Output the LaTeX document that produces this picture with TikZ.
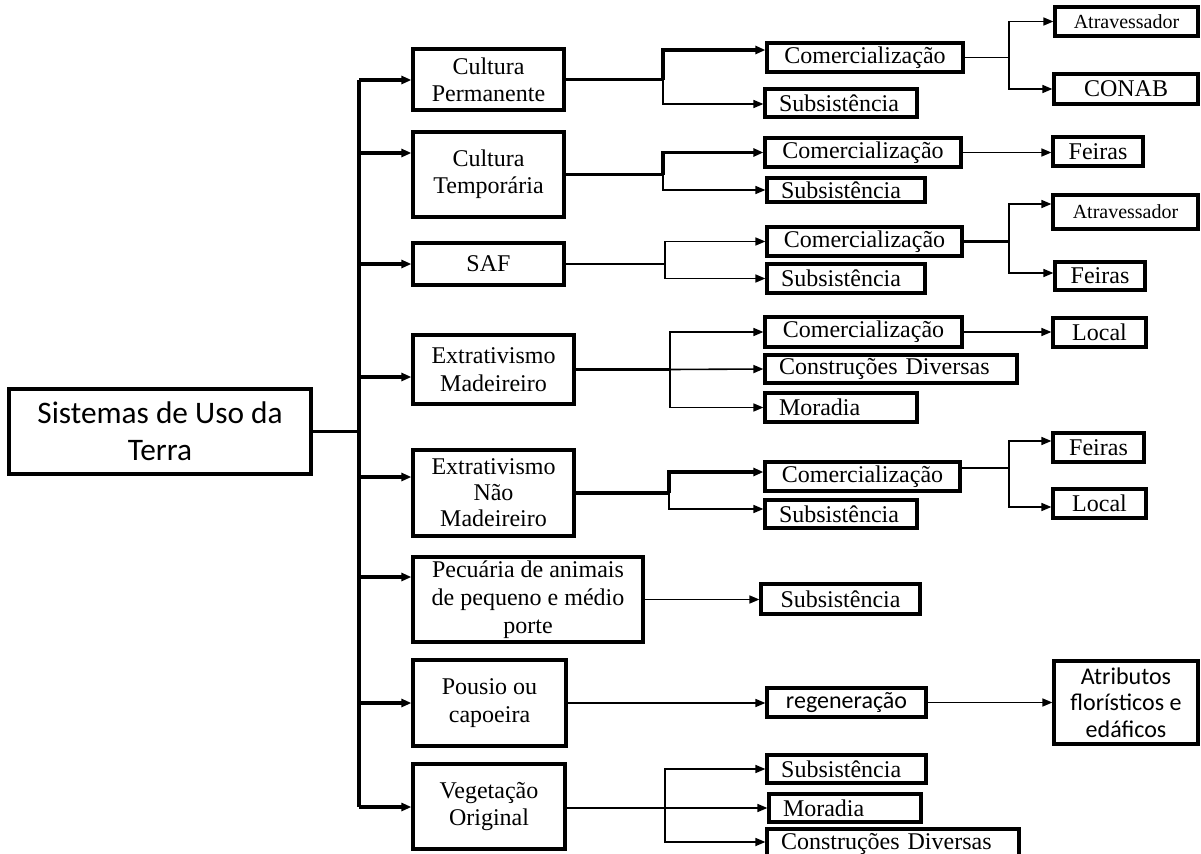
\documentclass[tikz,border=0pt]{standalone}
\usepackage{fontspec}
\setmainfont{Liberation Serif}
\newfontfamily\calibri{Carlito}
\usetikzlibrary{arrows.meta}
\begin{document}
\begin{tikzpicture}[x=0.75pt,y=-0.75pt,
  box/.style={draw, line width=2.4pt, inner sep=0pt, font=\fontsize{18}{20.5}\selectfont, align=center},
  bb/.style args={#1/#2/#3/#4}{at={({(#1+#3)/2},{(#2+#4)/2})}, minimum width={(#3-#1)*0.75pt}, minimum height={(#4-#2)*0.75pt}},
  lbox/.style={box, align=left, text width=#1},
  smallbox/.style={box, font=\fontsize{15}{17}\selectfont},
  calbox/.style={box, font=\calibri\fontsize{18}{20}\selectfont},
  tk/.style={line width=2.6pt},
  md/.style={line width=1.9pt},
  tn/.style={line width=1.2pt},
  arr/.style={-{Triangle[length=7.5pt,width=6pt]}}]
\useasboundingbox (0,0) rectangle (1201,853);

% root
\node[box, bb=9/389/311/474, font=\calibri\fontsize{23.5}{28}\selectfont] (M) {Sistemas de Uso da\\Terra};

% level 1
\node[box, bb=413/49/564/110] (A) {Cultura\\Permanente};
\node[box, bb=413/132/564/217] (B) {Cultura\\Temporária};
\node[box, bb=413/243/564/285] (C) {SAF};
\node[box, bb=413/335/574/404] (D) {Extrativismo\\Madeireiro};
\node[box, bb=413/450/574/536, font=\fontsize{18}{19.5}\selectfont] (E) {Extrativismo\\Não\\Madeireiro};
\node[box, bb=413/557/643/642, font=\fontsize{18}{21}\selectfont] (F) {Pecuária de animais\\de pequeno e médio\\porte};
\node[box, bb=413/660/566/746] (G) {Pousio ou\\capoeira};
\node[box, bb=413/764/565/849] (H) {Vegetação\\Original};

% level 2
\node[box, bb=767/43/963/72] (A1) {Comercialização};
\node[lbox=93pt, bb=765/89/917/117] (A2) {Subsistência};
\node[box, bb=765/138/961/167] (B1) {Comercialização};
\node[lbox=97.5pt, bb=767/178/925/202] (B2) {Subsistência};
\node[box, bb=767/227/962/256] (C1) {Comercialização};
\node[lbox=97.5pt, bb=767/264/925/293] (C2) {Subsistência};
\node[box, bb=765/317/962/347] (D1) {Comercialização};
\node[lbox=168pt, bb=765/355/1017/383] (D2) {Construções Diversas};
\node[lbox=93pt, bb=765/393/917/422] (D3) {Moradia};
\node[box, bb=765/462/960/491] (E1) {Comercialização};
\node[lbox=93pt, bb=765/500/917/528] (E2) {Subsistência};
\node[box, bb=761/584/920/614] (F1) {Subsistência};
\node[calbox, bb=767/688/926/717] (G1) {regeneração};
\node[lbox=98pt, bb=767/755/926/783] (H1) {Subsistência};
\node[lbox=93pt, bb=769/794/921/822] (H2) {Moradia};
\node[lbox=168pt, bb=767/829/1019/859] (H3) {Construções Diversas};

% level 3
\node[smallbox, bb=1055/7/1198/36] (A11) {Atravessador};
\node[box, bb=1054/74/1198/104] (A12) {CONAB};
\node[box, bb=1053/137/1143/166] (B11) {Feiras};
\node[smallbox, bb=1053/195/1198/229] (C11) {Atravessador};
\node[box, bb=1055/262/1145/290] (C12) {Feiras};
\node[box, bb=1053/318/1146/347] (D11) {Local};
\node[box, bb=1053/433/1144/462] (E11) {Feiras};
\node[box, bb=1053/489/1146/518] (E12) {Local};
\node[calbox, bb=1054/661/1198/744] (G11) {Atributos\\florísticos e\\edáficos};

% spine
\coordinate (sA) at (359,80);
\coordinate (sB) at (359,153);
\coordinate (sC) at (359,264);
\coordinate (sD) at (359,377);
\coordinate (sE) at (359,477);
\coordinate (sF) at (359,577);
\coordinate (sG) at (359,703);
\coordinate (sH) at (359,807);
\draw[tk] (sA) -- (sH);
\draw[tk] (M.east) -- (M.east -| sA);
\foreach \s/\t in {sA/A,sB/B,sC/C,sD/D,sE/E,sF/F,sG/G,sH/H}
  \draw[tk,arr] (\s) -- (\s -| \t.west);

% branch A
\coordinate (jA1) at (663,50);
\coordinate (jA2) at (663,104);
\draw[tk] (A.east) -- (A.east -| jA1);
\draw[tk,arr] (A.east -| jA1) -- (jA1) -- (jA1 -| A1.west);
\draw[tn,arr] (A.east -| jA2) -- (jA2) -- (jA2 -| A2.west);
\coordinate (kA) at (1009,0);
\draw[tn] (A1.east) -- (A1.east -| kA);
\draw[tn,arr] (A1.east -| kA) |- (A11.west);
\draw[tn,arr] (A1.east -| kA) |- (A12.west);

% branch B
\coordinate (jB) at (663,0);
\draw[tk] (B.east) -- (B.east -| jB);
\draw[tk,arr] (B.east -| jB) |- (B1.west);
\draw[tn,arr] (B.east -| jB) |- (B2.west);
\draw[tn,arr] (B1.east) -- (B1.east -| B11.west);

% branch C
\coordinate (jC) at (665,0);
\draw[tn] (C.east) -- (C.east -| jC);
\draw[tn,arr] (C.east -| jC) |- (C1.west);
\draw[tn,arr] (C.east -| jC) |- (C2.west);
\coordinate (kC1) at (1009,204);
\coordinate (kC2) at (1009,273);
\draw[md] (C1.east) -- (C1.east -| kC1);
\draw[tn,arr] (C1.east -| kC1) -- (kC1) -- (kC1 -| C11.west);
\draw[tn,arr] (C1.east -| kC2) -- (kC2) -- (kC2 -| C12.west);

% branch D
\coordinate (jD) at (670,0);
\draw[tk] (D.east) -- (D.east -| jD);
\draw[tn,arr] (D.east -| jD) -- (D2.west);
\draw[tn,arr] (D.east -| jD) |- (D1.west);
\draw[tn,arr] (D.east -| jD) |- (D3.west);
\draw[tn,arr] (D1.east) -- (D1.east -| D11.west);

% branch E
\coordinate (jE1) at (669,472);
\coordinate (jE2) at (669,509);
\draw[tk] (E.east) -- (E.east -| jE1);
\draw[tk,arr] (E.east -| jE1) -- (jE1) -- (jE1 -| E1.west);
\draw[tn,arr] (E.east -| jE2) -- (jE2) -- (jE2 -| E2.west);
\coordinate (kE0) at (1009,468);
\coordinate (kE1) at (1009,441);
\coordinate (kE2) at (1009,507);
\draw[tn] (kE0 -| E1.east) -- (kE0);
\draw[tn,arr] (kE0) -- (kE1) -- (kE1 -| E11.west);
\draw[tn,arr] (kE0) -- (kE2) -- (kE2 -| E12.west);

% branch F, G
\draw[tn,arr] (F.east) -- (F.east -| F1.west);
\draw[tn,arr] (G.east) -- (G.east -| G1.west);
\draw[tn,arr] (G1.east) -- (G1.east -| G11.west);

% branch H
\coordinate (hM) at (665,808);
\coordinate (h3) at (665,842);
\draw[tn,arr] (hM -| H.east) -- (hM -| H2.west);
\draw[tn,arr] (hM) |- (H1.west);
\draw[tn,arr] (hM) -- (h3) -- (h3 -| H3.west);
\end{tikzpicture}
\end{document}
